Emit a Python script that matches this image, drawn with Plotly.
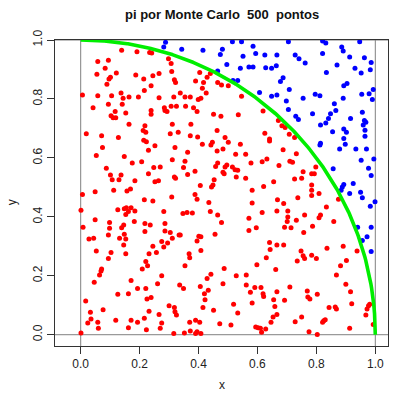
import numpy as np
import plotly.graph_objects as go

# Pontos sorteados no quadrado unitário (x, y)
pontos = [
    # faixa superior esquerda
    (0.288, 0.992), (0.282, 0.976),
    (0.139, 0.965), (0.191, 0.960), (0.234, 0.958), (0.241, 0.956), (0.058, 0.927), (0.094, 0.931),
    (0.298, 0.936), (0.307, 0.920), (0.083, 0.904), (0.121, 0.888), (0.055, 0.884), (0.187, 0.881),
    (0.101, 0.874), (0.096, 0.868), (0.245, 0.879), (0.266, 0.886), (0.309, 0.893), (0.318, 0.865),
    (0.322, 0.856), (0.214, 0.868), (0.089, 0.850), (0.239, 0.845), (0.006, 0.813), (0.058, 0.811),
    (0.105, 0.811), (0.137, 0.820), (0.144, 0.802), (0.164, 0.807), (0.196, 0.807), (0.216, 0.829),
    (0.266, 0.804), (0.316, 0.807), (0.094, 0.782), (0.141, 0.782), (0.042, 0.770), (0.239, 0.761),
    (0.239, 0.748), (0.284, 0.770), (0.286, 0.761), (0.293, 0.757), (0.307, 0.775), (0.325, 0.775),
    (0.117, 0.757), (0.103, 0.743), (0.110, 0.736), (0.119, 0.736), (0.153, 0.752), (0.164, 0.714),
    (0.218, 0.709), (0.311, 0.714), (0.019, 0.682), (0.071, 0.675), (0.128, 0.669), (0.212, 0.693),
    (0.221, 0.687), (0.304, 0.682),
    # faixa superior central
    (0.515, 0.994), (0.546, 0.994), (0.585, 0.979), (0.343, 0.969), (0.415, 0.965), (0.481, 0.969),
    (0.474, 0.951), (0.551, 0.945), (0.594, 0.954), (0.625, 0.949), (0.666, 0.949), (0.496, 0.917),
    (0.542, 0.904), (0.571, 0.908), (0.585, 0.908), (0.628, 0.906), (0.648, 0.904), (0.664, 0.913),
    (0.465, 0.895), (0.517, 0.863), (0.533, 0.863), (0.607, 0.822), (0.648, 0.809), (0.666, 0.813),
    (0.404, 0.890), (0.440, 0.886), (0.429, 0.874), (0.390, 0.861), (0.417, 0.856), (0.465, 0.856),
    (0.478, 0.847), (0.501, 0.845), (0.413, 0.836), (0.546, 0.809), (0.338, 0.820), (0.354, 0.807),
    (0.372, 0.807), (0.426, 0.820), (0.399, 0.798), (0.408, 0.802), (0.356, 0.775), (0.383, 0.770),
    (0.395, 0.757), (0.451, 0.748), (0.476, 0.741), (0.535, 0.746), (0.619, 0.759), (0.374, 0.714),
    (0.463, 0.693), (0.331, 0.687), (0.372, 0.675), (0.397, 0.671), (0.490, 0.669), (0.625, 0.684),
    (0.641, 0.664),
    # faixa superior direita
    (0.705, 0.994), (0.821, 0.997), (0.832, 0.990), (0.947, 0.994), (0.886, 0.976), (0.891, 0.963),
    (0.728, 0.949), (0.741, 0.936), (0.762, 0.922), (0.821, 0.954), (0.913, 0.942), (0.963, 0.940),
    (0.986, 0.924), (0.870, 0.915), (0.931, 0.904), (0.952, 0.888), (0.983, 0.899), (0.834, 0.890),
    (0.687, 0.872), (0.678, 0.859), (0.893, 0.845), (0.904, 0.852), (0.708, 0.832), (0.698, 0.793),
    (0.755, 0.802), (0.796, 0.816), (0.812, 0.811), (0.891, 0.802), (0.954, 0.816), (0.979, 0.818),
    (0.993, 0.832), (0.990, 0.798), (0.861, 0.784), (0.866, 0.761), (0.705, 0.764), (0.730, 0.741),
    (0.739, 0.730), (0.787, 0.750), (0.848, 0.750), (0.916, 0.734), (0.956, 0.755), (0.841, 0.734),
    (0.832, 0.718), (0.814, 0.712), (0.963, 0.727), (0.968, 0.721), (0.959, 0.712), (0.855, 0.689),
    (0.893, 0.698), (0.902, 0.687), (0.965, 0.694), (0.965, 0.673), (0.893, 0.666),
    (0.671, 0.727), (0.683, 0.709), (0.694, 0.703), (0.708, 0.680), (0.726, 0.669),
    # faixa central esquerda
    (0.214, 0.660), (0.223, 0.655), (0.074, 0.635), (0.252, 0.641), (0.230, 0.626), (0.320, 0.635),
    (0.053, 0.608), (0.148, 0.605), (0.311, 0.594), (0.175, 0.583), (0.207, 0.587), (0.087, 0.565),
    (0.248, 0.567), (0.270, 0.569), (0.230, 0.546), (0.101, 0.542), (0.107, 0.526), (0.137, 0.542),
    (0.130, 0.526), (0.184, 0.522), (0.252, 0.519), (0.264, 0.522), (0.318, 0.535), (0.322, 0.531),
    (0.049, 0.485), (0.112, 0.490), (0.157, 0.488), (0.169, 0.494), (0.006, 0.476), (0.309, 0.467),
    (0.216, 0.458), (0.245, 0.454), (0.001, 0.422), (0.126, 0.424), (0.148, 0.427), (0.155, 0.431),
    (0.171, 0.431), (0.162, 0.418), (0.153, 0.408), (0.184, 0.420), (0.282, 0.418), (0.049, 0.390),
    (0.098, 0.381), (0.146, 0.372), (0.182, 0.384), (0.218, 0.377), (0.236, 0.372), (0.286, 0.377),
    (0.008, 0.365), (0.098, 0.361), (0.139, 0.363), (0.218, 0.350), (0.286, 0.352), (0.304, 0.347),
    (0.094, 0.338), (0.148, 0.341), (0.334, 0.338), (0.028, 0.325), (0.044, 0.327), (0.132, 0.327),
    (0.153, 0.325), (0.311, 0.327),
    # faixa central
    (0.413, 0.646), (0.442, 0.644), (0.447, 0.653), (0.501, 0.653), (0.542, 0.646), (0.641, 0.657),
    (0.363, 0.619), (0.463, 0.623), (0.483, 0.630), (0.526, 0.612), (0.560, 0.612), (0.354, 0.589),
    (0.578, 0.583), (0.616, 0.587), (0.632, 0.596), (0.673, 0.574), (0.349, 0.567), (0.388, 0.555),
    (0.363, 0.544), (0.465, 0.583), (0.458, 0.571), (0.496, 0.576), (0.490, 0.569), (0.515, 0.569),
    (0.524, 0.560), (0.533, 0.558), (0.483, 0.551), (0.487, 0.546), (0.528, 0.535), (0.560, 0.531),
    (0.453, 0.526), (0.406, 0.506), (0.444, 0.501), (0.449, 0.508), (0.621, 0.503), (0.655, 0.519),
    (0.582, 0.490), (0.388, 0.476), (0.395, 0.460), (0.435, 0.449), (0.582, 0.447), (0.668, 0.458),
    (0.347, 0.411), (0.361, 0.415), (0.379, 0.413), (0.440, 0.418), (0.465, 0.406), (0.478, 0.381),
    (0.571, 0.395), (0.616, 0.415), (0.666, 0.420), (0.596, 0.363), (0.571, 0.354), (0.338, 0.338),
    (0.401, 0.334), (0.408, 0.332), (0.456, 0.341),
    # faixa central direita
    (0.814, 0.650), (0.812, 0.644), (0.898, 0.646), (0.879, 0.630), (0.934, 0.630), (0.970, 0.630),
    (0.952, 0.592), (0.995, 0.596), (0.857, 0.563), (0.977, 0.565), (0.986, 0.540), (0.893, 0.510),
    (0.888, 0.501), (0.925, 0.513), (0.884, 0.490), (0.913, 0.479), (0.950, 0.483), (0.956, 0.465),
    (0.999, 0.451), (0.983, 0.436), (0.940, 0.365), (0.986, 0.365), (0.972, 0.332),
    (0.687, 0.628), (0.732, 0.614), (0.710, 0.589), (0.719, 0.585), (0.798, 0.569), (0.755, 0.553),
    (0.784, 0.546), (0.793, 0.546), (0.750, 0.531), (0.726, 0.528), (0.784, 0.508), (0.784, 0.490),
    (0.784, 0.472), (0.809, 0.479), (0.737, 0.465), (0.689, 0.445), (0.875, 0.460), (0.834, 0.433),
    (0.703, 0.420), (0.760, 0.406), (0.814, 0.406), (0.809, 0.397), (0.703, 0.399), (0.701, 0.384),
    (0.732, 0.388), (0.859, 0.384), (0.692, 0.365), (0.714, 0.363), (0.787, 0.368), (0.757, 0.347),
    # faixa inferior esquerda
    (0.146, 0.304), (0.275, 0.316), (0.282, 0.298), (0.295, 0.311), (0.245, 0.300), (0.053, 0.284),
    (0.103, 0.279), (0.094, 0.259), (0.153, 0.275), (0.232, 0.275), (0.257, 0.279), (0.221, 0.248),
    (0.227, 0.234), (0.209, 0.223), (0.071, 0.223), (0.069, 0.216), (0.064, 0.203), (0.275, 0.200),
    (0.046, 0.178), (0.171, 0.184), (0.261, 0.173), (0.193, 0.157), (0.221, 0.157), (0.336, 0.169),
    (0.126, 0.137), (0.162, 0.139), (0.225, 0.121), (0.239, 0.126), (0.017, 0.114), (0.076, 0.085),
    (0.300, 0.098), (0.318, 0.092), (0.320, 0.078), (0.325, 0.067), (0.033, 0.076), (0.035, 0.053),
    (0.119, 0.049), (0.171, 0.049), (0.193, 0.042), (0.216, 0.056), (0.232, 0.080), (0.266, 0.069),
    (0.024, 0.040), (0.058, 0.042), (0.060, 0.022), (0.162, 0.024), (0.223, 0.017), (0.270, 0.022),
    (0.275, 0.040), (0.001, 0.006), (0.316, 0.004),
    # faixa inferior central
    (0.395, 0.318), (0.408, 0.286), (0.368, 0.275), (0.370, 0.261), (0.354, 0.234), (0.487, 0.225),
    (0.442, 0.205), (0.429, 0.191), (0.528, 0.200), (0.562, 0.203), (0.483, 0.173), (0.406, 0.164),
    (0.349, 0.157), (0.433, 0.151), (0.420, 0.139), (0.422, 0.119), (0.562, 0.169), (0.591, 0.160),
    (0.612, 0.160), (0.576, 0.144), (0.619, 0.139), (0.621, 0.130), (0.415, 0.092), (0.451, 0.083),
    (0.519, 0.103), (0.533, 0.074), (0.582, 0.108), (0.655, 0.119), (0.659, 0.096), (0.666, 0.146),
    (0.662, 0.221), (0.641, 0.313), (0.666, 0.304), (0.643, 0.289), (0.630, 0.261), (0.598, 0.237),
    (0.370, 0.042), (0.390, 0.049), (0.404, 0.042), (0.472, 0.037), (0.510, 0.033), (0.594, 0.026),
    (0.602, 0.024), (0.610, 0.022), (0.614, 0.008), (0.628, 0.019), (0.646, 0.042), (0.653, 0.060),
    (0.666, 0.069), (0.372, 0.013), (0.395, 0.010), (0.390, 0.004), (0.408, 0.004), (0.352, 0.006),
    # faixa inferior direita
    (0.956, 0.320), (0.986, 0.282),
    (0.689, 0.304), (0.748, 0.284), (0.755, 0.268), (0.760, 0.259), (0.784, 0.270), (0.800, 0.259),
    (0.735, 0.250), (0.836, 0.293), (0.891, 0.300), (0.938, 0.284), (0.902, 0.252), (0.882, 0.234),
    (0.868, 0.203), (0.900, 0.171), (0.710, 0.162), (0.769, 0.148), (0.771, 0.128), (0.778, 0.121),
    (0.803, 0.137), (0.916, 0.146), (0.692, 0.117), (0.920, 0.105), (0.843, 0.092), (0.864, 0.094),
    (0.868, 0.087), (0.977, 0.098), (0.981, 0.103), (0.972, 0.087), (0.968, 0.067), (0.750, 0.060),
    (0.728, 0.044), (0.825, 0.047), (0.830, 0.051), (0.821, 0.042), (0.913, 0.022), (0.993, 0.035),
    (0.775, 0.010), (0.803, 0.001),
]

n_pontos = 500
titulo = f"pi por Monte Carlo\u00a0 {n_pontos}\u00a0 pontos"
ticks = [0.0, 0.2, 0.4, 0.6, 0.8, 1.0]
tick_labels = ["0.0", "0.2", "0.4", "0.6", "0.8", "1.0"]

xs = np.array([p[0] for p in pontos])
ys = np.array([p[1] for p in pontos])
dentro = xs ** 2 + ys ** 2 <= 1

# quarto de círculo x^2 + y^2 = 1
t = np.linspace(0, 1, 400)
arco_x = t
arco_y = np.sqrt(1 - t ** 2)

fonte = "Liberation Sans, Arial, Helvetica, sans-serif"

fig = go.Figure()
fig.add_trace(go.Scatter(x=xs[dentro], y=ys[dentro], mode="markers",
                         marker=dict(color="#ff0000", size=5, line=dict(width=0)),
                         hoverinfo="skip", showlegend=False))
fig.add_trace(go.Scatter(x=xs[~dentro], y=ys[~dentro], mode="markers",
                         marker=dict(color="#0000ff", size=5, line=dict(width=0)),
                         hoverinfo="skip", showlegend=False))
fig.add_trace(go.Scatter(x=arco_x, y=arco_y, mode="lines",
                         line=dict(color="#00ee00", width=3.6),
                         hoverinfo="skip", showlegend=False))

linha = dict(color="#808080", width=1)
shapes = [
    dict(type="line", xref="x", yref="paper", x0=0, x1=0, y0=0, y1=1, line=linha, layer="below"),
    dict(type="line", xref="x", yref="paper", x0=1, x1=1, y0=0, y1=1, line=linha, layer="below"),
    dict(type="line", xref="paper", yref="y", x0=0, x1=1, y0=0, y1=0, line=linha, layer="below"),
    dict(type="line", xref="paper", yref="y", x0=0, x1=1, y0=1, y1=1, line=linha, layer="below"),
]

eixo = dict(showgrid=False, zeroline=False, showline=True, mirror=True,
            linecolor="#333333", linewidth=1, ticks="outside", ticklen=7,
            tickcolor="#333333", tickwidth=1, tickvals=ticks, ticktext=tick_labels,
            tickfont=dict(family=fonte, size=12, color="#222222"))

fig.update_layout(
    width=396, height=394,
    margin=dict(l=55, r=8, t=40, b=48),
    paper_bgcolor="white", plot_bgcolor="white",
    xaxis=dict(range=[-0.0872, 1.0431], **eixo),
    yaxis=dict(range=[-0.0383, 1.0], tickangle=-90, **eixo),
    shapes=shapes,
    annotations=[
        dict(text=f"<b>{titulo}</b>", xref="paper", yref="paper", x=0.5, y=1.082,
             xanchor="center", yanchor="middle", showarrow=False,
             font=dict(family=fonte, size=13, color="#111111")),
        dict(text="x", xref="paper", yref="paper", x=0.5, y=-0.128,
             xanchor="center", yanchor="middle", showarrow=False,
             font=dict(family=fonte, size=12, color="#222222")),
        dict(text="y", xref="paper", yref="paper", x=-0.129, y=0.47,
             xanchor="center", yanchor="middle", showarrow=False, textangle=-90,
             font=dict(family=fonte, size=12, color="#222222")),
    ],
)

fig.write_html("out.html")
